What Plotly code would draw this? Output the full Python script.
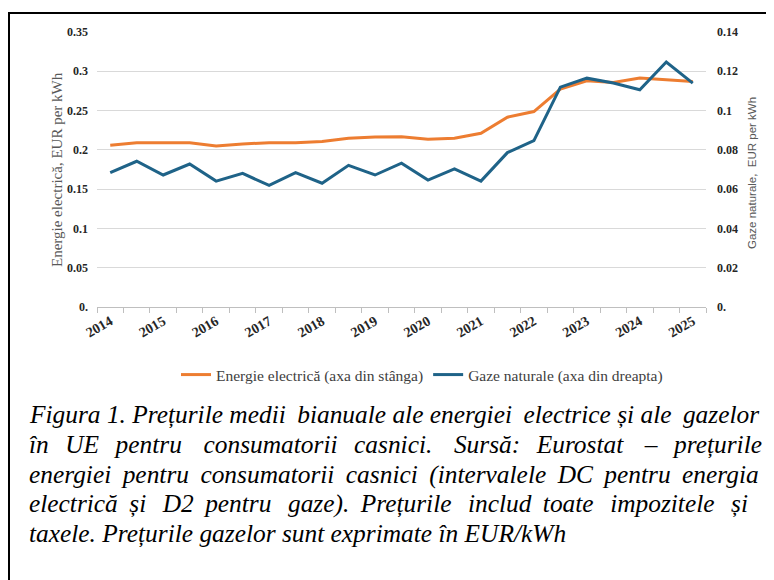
import plotly.graph_objects as go

# ---------------- data ----------------
categories = [f"{y}-S{s}" for y in range(2014, 2025) for s in (1, 2)] + ["2025-S1"]
electricity = [0.206, 0.209, 0.209, 0.209, 0.205, 0.2075, 0.209, 0.209, 0.2105, 0.2148,
               0.2165, 0.2168, 0.2135, 0.2148, 0.2211, 0.2416, 0.2487, 0.2773, 0.2879,
               0.2857, 0.2913, 0.2892, 0.287]
gas = [0.0684, 0.0742, 0.0672, 0.0728, 0.0641, 0.068, 0.0619, 0.0684, 0.063, 0.0721,
       0.0672, 0.0732, 0.0646, 0.0703, 0.0641, 0.0786, 0.0847, 0.1119, 0.1165, 0.114,
       0.1106, 0.1247, 0.114]
year_labels = ["2014", "2015", "2016", "2017", "2018", "2019", "2020", "2021", "2022",
               "2023", "2024", "2025"]
left_ticks = [0, 0.05, 0.1, 0.15, 0.2, 0.25, 0.3, 0.35]
left_ticktext = ["0.", "0.05", "0.1", "0.15", "0.2", "0.25", "0.3", "0.35"]
right_ticks = [0, 0.02, 0.04, 0.06, 0.08, 0.1, 0.12, 0.14]
right_ticktext = ["0.", "0.02", "0.04", "0.06", "0.08", "0.1", "0.12", "0.14"]
caption_lines = [
    "Figura 1. Prețurile medii bianuale ale energiei electrice și ale gazelor",
    "în UE pentru consumatorii casnici. Sursă: Eurostat – prețurile",
    "energiei pentru consumatorii casnici (intervalele DC pentru energia",
    "electrică și D2 pentru gaze). Prețurile includ toate impozitele și",
    "taxele. Prețurile gazelor sunt exprimate în EUR/kWh",
]
# extra thin spaces per word gap to imitate the justified paragraph
caption_extra = [0.33, 2.47, 1.0, 1.56, 0]

# ---------------- layout helpers ----------------
OFF = 8                      # page body margin
W, H = 774 - OFF, 580 - OFF
L, R, T, B = 97 - OFF, 68, 32 - OFF, 273
PW, PH = W - L - R, H - T - B


def px(x):
    return (x - OFF - L) / PW


def py(y):
    return (H - B - (y - OFF)) / PH


def justify(line, extra):
    words = line.split(" ")
    out = words[0]
    acc = 0.0
    for w in words[1:]:
        acc += extra
        n = int(acc + 1e-9)
        acc -= n
        out += " " + "\u2009" * n + w
    return out


x_idx = list(range(len(categories)))
tick_idx = [i for i, c in enumerate(categories) if c.endswith("S1")]

SERIF = "Liberation Serif"
SANS = "Liberation Sans"

fig = go.Figure()
fig.add_trace(go.Scatter(x=x_idx, y=electricity, mode="lines",
                         name="Energie electrică (axa din stânga)",
                         line=dict(color="#ED7D31", width=3), yaxis="y"))
fig.add_trace(go.Scatter(x=x_idx, y=gas, mode="lines",
                         name="Gaze naturale (axa din dreapta)",
                         line=dict(color="#1F6388", width=3), yaxis="y2"))

fig.update_layout(
    width=W, height=H,
    margin=dict(l=L, r=R, t=T, b=B),
    paper_bgcolor="white", plot_bgcolor="white",
    showlegend=True,
    legend=dict(orientation="h", x=px(422), xanchor="center", y=py(375), yanchor="middle",
                font=dict(family=SERIF, size=15.5, color="#404040"),
                bgcolor="rgba(0,0,0,0)", itemwidth=30, tracegroupgap=0),
    xaxis=dict(range=[-0.5, len(categories) - 0.5], tickvals=tick_idx, ticktext=year_labels,
               tickangle=-30, ticks="", showgrid=False, zeroline=False,
               showline=True, linecolor="#BFBFBF", linewidth=1,
               tickfont=dict(family=SERIF, size=14, color="#262626", weight="bold"),
               minor=dict(ticks="outside", tick0=-0.5, dtick=1, ticklen=5,
                          tickcolor="#BFBFBF", showgrid=False)),
    yaxis=dict(range=[0, 0.35], tickvals=left_ticks, ticktext=left_ticktext,
               showgrid=True, gridcolor="#D9D9D9", gridwidth=1, zeroline=False,
               showline=False, ticks="", ticklabelstandoff=8,
               tickfont=dict(family=SERIF, size=12, color="#262626", weight="bold")),
    yaxis2=dict(range=[0, 0.14], tickvals=right_ticks, ticktext=right_ticktext,
                overlaying="y", side="right", showgrid=False, zeroline=False,
                showline=False, ticks="", ticklabelstandoff=10,
                tickfont=dict(family=SERIF, size=12, color="#262626", weight="bold")),
)

annotations = [
    dict(text="Energie electrică, EUR per kWh", textangle=-90, x=px(57), y=py(170),
         xref="paper", yref="paper", showarrow=False, xanchor="center", yanchor="middle",
         font=dict(family=SERIF, size=15, color="#595959")),
    dict(text="Gaze naturale,  EUR per kWh", textangle=-90, x=px(752), y=py(173),
         xref="paper", yref="paper", showarrow=False, xanchor="center", yanchor="middle",
         font=dict(family=SANS, size=11.5, color="#595959")),
]
for i, line in enumerate(caption_lines):
    annotations.append(dict(text=justify(line, caption_extra[i]), x=px(27), y=py(415 + i * 29.5),
                            xref="paper", yref="paper",
                            showarrow=False, xanchor="left", yanchor="middle",
                            font=dict(family=SERIF, size=25.4, color="#000000", style="italic")))
fig.update_layout(annotations=annotations)

fig.update_layout(shapes=[
    dict(type="line", xref="paper", yref="paper", x0=px(8), x1=px(774), y0=py(13), y1=py(13),
         line=dict(color="black", width=2)),
    dict(type="line", xref="paper", yref="paper", x0=px(9), x1=px(9), y0=py(13), y1=py(580),
         line=dict(color="black", width=2)),
])

fig.write_html("out.html")
